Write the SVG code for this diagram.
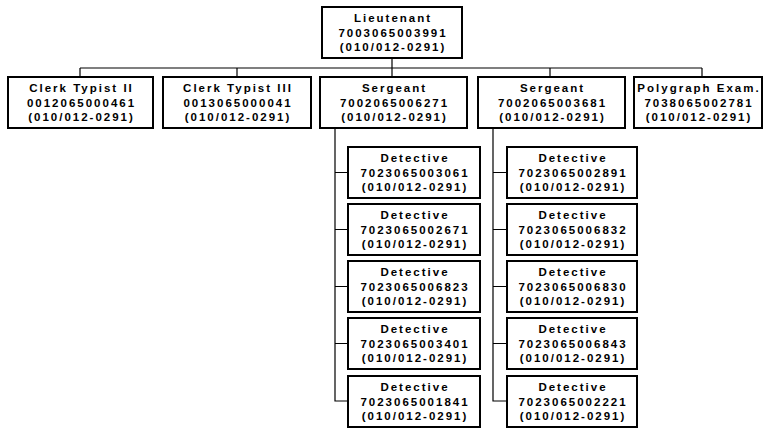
<svg xmlns="http://www.w3.org/2000/svg" width="767" height="429" viewBox="0 0 767 429">
<style>
.box{fill:#fff;stroke:#000;stroke-width:2}
.t{font-family:"Liberation Sans",Arial,sans-serif;font-weight:bold;font-size:11.5px;letter-spacing:2px;text-anchor:middle;fill:#000}
.c{fill:none;stroke:#000;stroke-width:1.2}
</style>
<rect width="767" height="429" fill="#fff"/>
<g id="connectors">
<path class="c" d="M392 58V68M80 68H702M80 68V77M237 68V77M392 68V77M550 68V77M702 68V77"/>
<path class="c" d="M335 128V401H348M335 172.5H348M335 229.5H348M335 286.5H348M335 343.5H348"/>
<path class="c" d="M493 128V401H507M493 172.5H507M493 229.5H507M493 286.5H507M493 343.5H507"/>
</g>
<g id="lieutenant"><rect class="box" x="322" y="7" width="140" height="51"/><text class="t"><tspan x="393" y="22">Lieutenant</tspan><tspan x="393" y="36.5">7003065003991</tspan><tspan x="393" y="51">(010/012-0291)</tspan></text></g>
<g id="clerk2"><rect class="box" x="8" y="77" width="145" height="51"/><text class="t"><tspan x="81.5" y="92">Clerk Typist II</tspan><tspan x="81.5" y="106.5">0012065000461</tspan><tspan x="81.5" y="121">(010/012-0291)</tspan></text></g>
<g id="clerk3"><rect class="box" x="163" y="77" width="148" height="51"/><text class="t"><tspan x="238" y="92">Clerk Typist III</tspan><tspan x="238" y="106.5">0013065000041</tspan><tspan x="238" y="121">(010/012-0291)</tspan></text></g>
<g id="sergeant1"><rect class="box" x="320" y="77" width="147" height="51"/><text class="t"><tspan x="394.5" y="92">Sergeant</tspan><tspan x="394.5" y="106.5">7002065006271</tspan><tspan x="394.5" y="121">(010/012-0291)</tspan></text></g>
<g id="sergeant2"><rect class="box" x="478" y="77" width="147" height="51"/><text class="t"><tspan x="552.5" y="92">Sergeant</tspan><tspan x="552.5" y="106.5">7002065003681</tspan><tspan x="552.5" y="121">(010/012-0291)</tspan></text></g>
<g id="polygraph"><rect class="box" x="634" y="77" width="128" height="51"/><text class="t"><tspan x="699" y="92">Polygraph Exam.</tspan><tspan x="699" y="106.5">7038065002781</tspan><tspan x="699" y="121">(010/012-0291)</tspan></text></g>
<g id="det1a"><rect class="box" x="348" y="147" width="132" height="51"/><text class="t"><tspan x="415" y="162">Detective</tspan><tspan x="415" y="176.5">7023065003061</tspan><tspan x="415" y="191">(010/012-0291)</tspan></text></g>
<g id="det1b"><rect class="box" x="348" y="204" width="132" height="51"/><text class="t"><tspan x="415" y="219">Detective</tspan><tspan x="415" y="233.5">7023065002671</tspan><tspan x="415" y="248">(010/012-0291)</tspan></text></g>
<g id="det1c"><rect class="box" x="348" y="261" width="132" height="51"/><text class="t"><tspan x="415" y="276">Detective</tspan><tspan x="415" y="290.5">7023065006823</tspan><tspan x="415" y="305">(010/012-0291)</tspan></text></g>
<g id="det1d"><rect class="box" x="348" y="318" width="132" height="51"/><text class="t"><tspan x="415" y="333">Detective</tspan><tspan x="415" y="347.5">7023065003401</tspan><tspan x="415" y="362">(010/012-0291)</tspan></text></g>
<g id="det1e"><rect class="box" x="348" y="376" width="132" height="51"/><text class="t"><tspan x="415" y="391">Detective</tspan><tspan x="415" y="405.5">7023065001841</tspan><tspan x="415" y="420">(010/012-0291)</tspan></text></g>
<g id="det2a"><rect class="box" x="507" y="147" width="130" height="51"/><text class="t"><tspan x="573" y="162">Detective</tspan><tspan x="573" y="176.5">7023065002891</tspan><tspan x="573" y="191">(010/012-0291)</tspan></text></g>
<g id="det2b"><rect class="box" x="507" y="204" width="130" height="51"/><text class="t"><tspan x="573" y="219">Detective</tspan><tspan x="573" y="233.5">7023065006832</tspan><tspan x="573" y="248">(010/012-0291)</tspan></text></g>
<g id="det2c"><rect class="box" x="507" y="261" width="130" height="51"/><text class="t"><tspan x="573" y="276">Detective</tspan><tspan x="573" y="290.5">7023065006830</tspan><tspan x="573" y="305">(010/012-0291)</tspan></text></g>
<g id="det2d"><rect class="box" x="507" y="318" width="130" height="51"/><text class="t"><tspan x="573" y="333">Detective</tspan><tspan x="573" y="347.5">7023065006843</tspan><tspan x="573" y="362">(010/012-0291)</tspan></text></g>
<g id="det2e"><rect class="box" x="507" y="376" width="130" height="51"/><text class="t"><tspan x="573" y="391">Detective</tspan><tspan x="573" y="405.5">7023065002221</tspan><tspan x="573" y="420">(010/012-0291)</tspan></text></g>
</svg>
